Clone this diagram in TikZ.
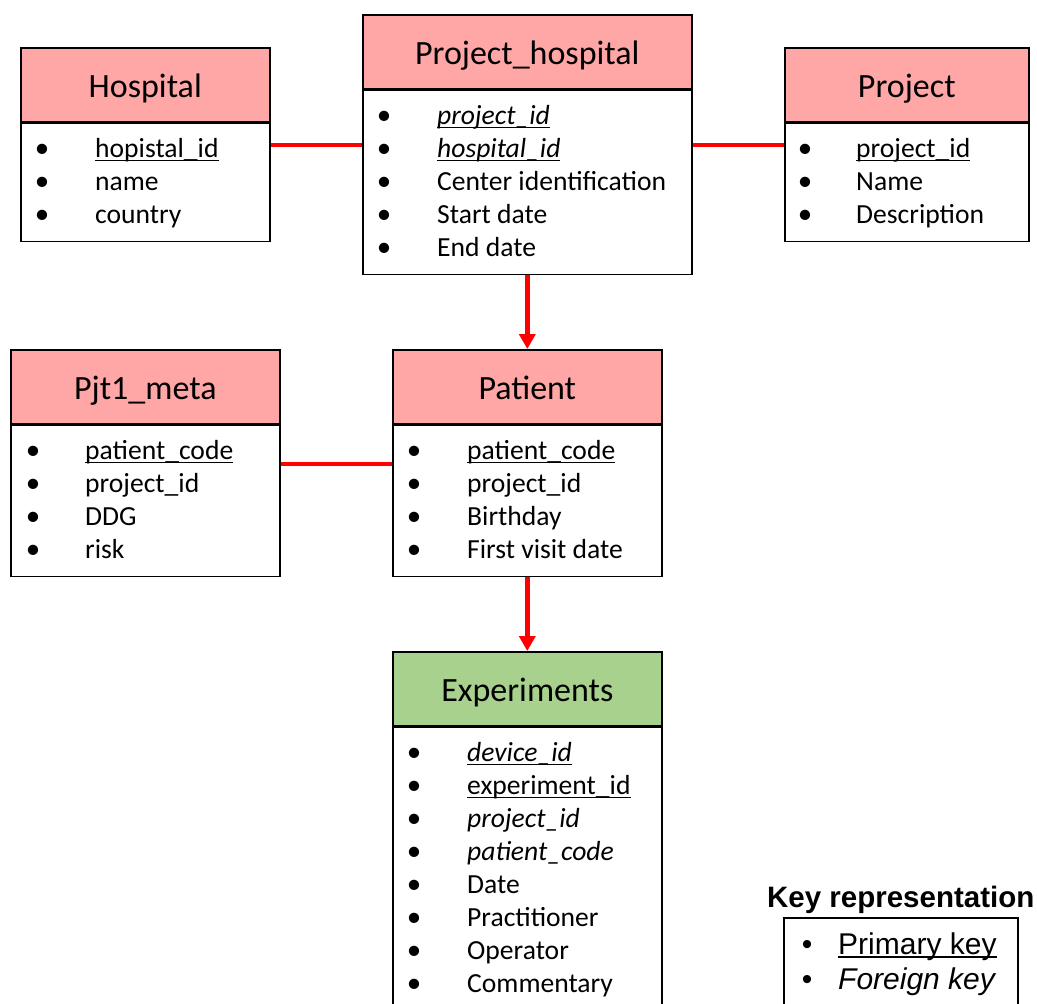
\documentclass[tikz,border=0pt]{standalone}
\usepackage{fontspec}
\setmainfont{Carlito}
\newfontfamily\arialf{Liberation Sans}
\usetikzlibrary{calc,arrows.meta}
\definecolor{hdrpink}{HTML}{FFA6A6}
\definecolor{hdrgreen}{HTML}{A9D18E}
\definecolor{linkred}{HTML}{FF0000}
\newcommand{\keyul}[1]{\setbox0\hbox{#1}\rlap{\rule[-0.13em]{\wd0}{0.06em}}\box0}
\tikzset{
 hdr/.style={draw, line width=1.6pt, fill=hdrpink, anchor=north west, inner sep=0pt, minimum height=74pt, font=\fontsize{34}{40}\selectfont, text height=25pt, text depth=0pt},
 bodybox/.style={draw, line width=1.6pt, fill=white, anchor=north west, inner sep=0pt},
 item/.style={anchor=base west, inner sep=0pt, font=\fontsize{27.6}{33}\selectfont},
 bul/.style={anchor=base, inner sep=0pt, font=\fontsize{29}{33}\selectfont},
 rel/.style={draw=linkred, line width=4pt},
 relarrow/.style={rel, line width=5pt, -{Triangle[width=16pt,length=15pt]}},
}
\newcommand{\items}[4]{%
 \foreach \t [count=\i] in {#4} {
  \node[bul] (#1-b\i) at ($(#1.north west)+(#2,{35+33*(\i-1)})$) {•};
  \node[item] (#1-t\i) at ($(#1.north west)+(#3,{35+33*(\i-1)})$) {\t};
 }}
\begin{document}
\begin{tikzpicture}[x=1pt,y=-1pt]
\useasboundingbox (0,0) rectangle (1037,1004);
% Hospital
\node[hdr, minimum width=249pt] (hosp) at (20,47) {Hospital};
\node[bodybox, minimum width=249pt, minimum height=118pt] (hospb) at (hosp.south west) {};
\items{hospb}{22}{75}{\keyul{hopistal\_id}, name, country}
% Project_hospital
\node[hdr, minimum width=329pt] (ph) at (362,14) {Project\_hospital};
\node[bodybox, minimum width=329pt, minimum height=184pt] (phb) at (ph.south west) {};
\items{phb}{22}{75}{\keyul{\textit{project\_id}}, \keyul{\textit{hospital\_id}}, Center identification, Start date, End date}
% Project
\node[hdr, minimum width=244pt] (proj) at (784,47) {Project};
\node[bodybox, minimum width=244pt, minimum height=118pt] (projb) at (proj.south west) {};
\items{projb}{21}{72}{\keyul{project\_id}, Name, Description}
% Pjt1_meta
\node[hdr, minimum width=269pt] (meta) at (10,349) {Pjt1\_meta};
\node[bodybox, minimum width=269pt, minimum height=151pt] (metab) at (meta.south west) {};
\items{metab}{23}{75}{\keyul{patient\_code}, project\_id, DDG, risk}
% Patient
\node[hdr, minimum width=269pt] (pat) at (392,349) {Patient};
\node[bodybox, minimum width=269pt, minimum height=151pt] (patb) at (pat.south west) {};
\items{patb}{22}{75}{\keyul{patient\_code}, project\_id, Birthday, First visit date}
% Experiments
\node[hdr, fill=hdrgreen, minimum width=269pt] (exp) at (392,651) {Experiments};
\node[bodybox, minimum width=269pt, minimum height=320pt] (expb) at (exp.south west) {};
\items{expb}{22}{75}{\keyul{\textit{device\_id}}, \keyul{experiment\_id}, \textit{project\_id}, \textit{patient\_code}, Date, Practitioner, Operator, Commentary}
% connectors
\draw[rel] ($(hospb.north east)+(0,22)$) -- ($(phb.north west)+(0,55)$);
\draw[rel] ($(phb.north east)+(0,55)$) -- ($(projb.north west)+(0,22)$);
\draw[rel] ($(metab.north east)+(0,39)$) -- ($(patb.north west)+(0,39)$);
\draw[relarrow] (phb.south) -- (pat.north);
\draw[relarrow] (patb.south) -- (exp.north);
% Key representation
\node[bodybox, minimum width=234pt, minimum height=110pt] (kbox) at (783,917) {};
\node[anchor=base, inner sep=0pt, font=\arialf\bfseries\fontsize{29.5}{34}\selectfont] (ktitle) at ($(kbox.north)+(0,-10)$) {Key representation};
\node[anchor=base, inner sep=0pt, font=\arialf\fontsize{30}{34}\selectfont] (kb1) at ($(kbox.north west)+(24,37)$) {•};
\node[anchor=base west, inner sep=0pt, font=\arialf\fontsize{30}{34}\selectfont] (kt1) at ($(kbox.north west)+(55,37)$) {\keyul{Primary key}};
\node[anchor=base, inner sep=0pt, font=\arialf\fontsize{30}{34}\selectfont] (kb2) at ($(kbox.north west)+(24,72)$) {•};
\node[anchor=base west, inner sep=0pt, font=\arialf\fontsize{30}{34}\selectfont] (kt2) at ($(kbox.north west)+(55,72)$) {\textit{Foreign key}};
\end{tikzpicture}
\end{document}
